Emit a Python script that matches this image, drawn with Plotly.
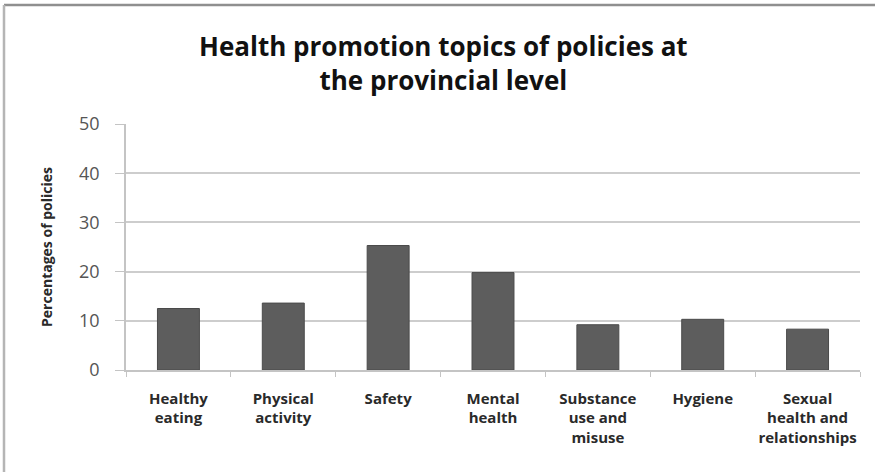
import plotly.graph_objects as go

# Share of provincial policies addressing each health promotion topic
topics = [
    "Healthy<br>eating",
    "Physical<br>activity",
    "Safety",
    "Mental<br>health",
    "Substance<br>use and<br>misuse",
    "Hygiene",
    "Sexual<br>health and<br>relationships",
]
percentages = [12.5, 13.6, 25.3, 19.8, 9.2, 10.3, 8.3]
y_ticks = [0, 10, 20, 30, 40, 50]

W, H = 875, 472
M_L, M_R, M_T, M_B = 126, 15, 124, 102
plot_w = W - M_L - M_R
plot_h = H - M_T - M_B
FONT = "Open Sans"

fig = go.Figure(
    go.Bar(
        x=topics,
        y=percentages,
        marker=dict(color="#5d5d5d", line=dict(color="#4a4a4a", width=1)),
        width=0.4,
    )
)

# Frame along the top and left edges of the chart area
frame_x0 = (4 - M_L) / plot_w
frame_x1 = (W - M_L) / plot_w
frame_y_top = (H - 5 - M_B) / plot_h
frame_y_bot = (0 - M_B) / plot_h
fig.add_shape(type="line", xref="paper", yref="paper",
              x0=frame_x0, x1=frame_x1, y0=frame_y_top, y1=frame_y_top,
              line=dict(color="#8f8f8f", width=2.5))
fig.add_shape(type="line", xref="paper", yref="paper",
              x0=frame_x0, x1=frame_x0, y0=frame_y_top, y1=frame_y_bot,
              line=dict(color="#b5b5b5", width=2.5))

# Two-line chart title
fig.add_annotation(
    text="<b>Health promotion topics of policies at<br>the provincial level</b>",
    xref="paper", yref="paper",
    x=(443 - M_L) / plot_w, xanchor="center",
    y=(H - 26 - M_B) / plot_h, yanchor="top",
    showarrow=False,
    font=dict(family=FONT, size=26, color="#111111"),
)

fig.update_layout(
    width=W,
    height=H,
    margin=dict(l=M_L, r=M_R, t=M_T, b=M_B),
    paper_bgcolor="white",
    plot_bgcolor="white",
    showlegend=False,
    font=dict(family=FONT),
)

fig.update_xaxes(
    showline=True,
    linecolor="#c4c4c4",
    linewidth=1.5,
    ticks="outside",
    tickson="boundaries",
    ticklen=5,
    tickcolor="#c4c4c4",
    tickangle=0,
    automargin=False,
    ticklabelstandoff=14,
    tickfont=dict(family=FONT, size=15, color="#2a2a2a", weight="bold"),
    showgrid=False,
)

fig.update_yaxes(
    range=[0, 50],
    tickvals=y_ticks,
    showline=True,
    linecolor="#c4c4c4",
    linewidth=1.5,
    ticks="outside",
    ticklen=9,
    tickcolor="#c4c4c4",
    automargin=False,
    ticklabelstandoff=12,
    showgrid=True,
    gridcolor="#cdcdcd",
    gridwidth=1.5,
    zeroline=False,
    tickfont=dict(family=FONT, size=18, color="#555555"),
    title=dict(
        text="<b>Percentages of policies</b>",
        font=dict(family=FONT, size=14, color="#2a2a2a"),
        standoff=23,
    ),
)

fig.write_html("out.html")
